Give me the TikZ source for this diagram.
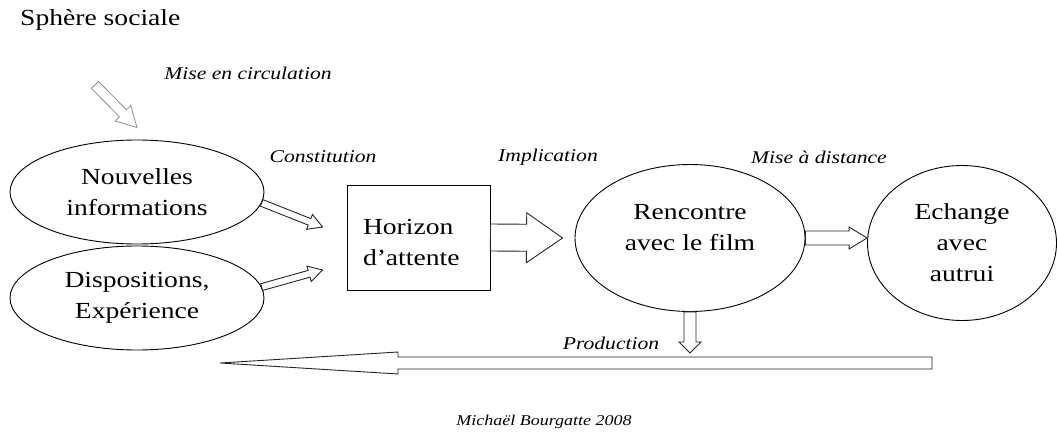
\documentclass[tikz,border=0pt]{standalone}
\usepackage{fontspec}
\setmainfont{Liberation Serif}[FakeStretch=1.2]
\usepackage{tikz}
\usetikzlibrary{calc,positioning,shapes.geometric}
\newcommand{\txtmain}{\fontsize{23}{31}\selectfont}
\newcommand{\txtlab}{\fontsize{18}{20}\selectfont\itshape}
\newcommand{\txtsig}{\fontsize{15}{17}\selectfont\itshape}
% hollow block arrow: [style]{from}{to}{shaft half}{head half}{head length}
\newcommand{\blockarr}[6][]{%
  \coordinate (ba) at ($(#3)!#6!(#2)$);%
  \draw[#1] ($(#2)!#4!90:(#3)$) -- ($(ba)!#4!90:(#3)$) -- ($(ba)!#5!90:(#3)$) -- (#3) -- ($(ba)!#5!-90:(#3)$) -- ($(ba)!#4!-90:(#3)$) -- ($(#2)!#4!-90:(#3)$) -- cycle;}
\tikzset{
  bubble/.style={draw, ellipse, inner sep=0pt, align=center, font=\txtmain, line width=0.9pt},
  boxnode/.style={draw, rectangle, inner xsep=16pt, align=left, font=\txtmain, line width=0.9pt},
  lab/.style={font=\txtlab, inner sep=0pt},
  arr/.style={draw=black!85, fill=white, line width=0.9pt, line join=miter},
  softarr/.style={draw=black!45, fill=white, line width=0.8pt}
}
\begin{document}
\begin{tikzpicture}[x=1pt, y=-1pt]
    \useasboundingbox (0,0) rectangle (1058,436);
    \node[anchor=west, font=\txtmain, inner sep=0pt] (sphere) at (20,20) {Sphère sociale}; %
    \node[lab] (circ) at (248,73) {Mise en circulation}; %
    \node[bubble, minimum width=254pt, minimum height=104pt] (nouv) at (137,192) {Nouvelles\\informations}; %
    \node[bubble, minimum width=254pt, minimum height=104pt] (disp) at (137,298) {Dispositions,\\Expérience}; %
    \node[boxnode, minimum width=143pt, minimum height=105pt, text width=111pt, text depth=22pt] (horiz) at (418.5,237.5) {Horizon\\d’attente}; %
    \node[bubble, minimum width=230pt, minimum height=147pt, text depth=22pt] (renc) at (690,238) {Rencontre\\avec le film}; %
    \node[bubble, minimum width=189pt, minimum height=155pt] (ech) at (962,243) {Echange\\avec\\autrui}; %
    \node[lab] (cons) at (323,157) {Constitution}; %
    \node[lab] (impl) at (548,157) {Implication}; %
    \node[lab] (dist) at (819,157) {Mise à distance}; %
    \node[lab] (prod) at (611,343) {Production}; %
    \node[font=\txtsig, inner sep=0pt] (sig) at (544,422) {Michaël Bourgatte 2008}; %
    % arrows
    \coordinate (circ-tail) at (95,85); %
    \coordinate (circ-tip) at ($(nouv.north)+(0,-12)$); %
    \blockarr[softarr]{circ-tail}{circ-tip}{5pt}{11pt}{20pt} %
    \coordinate (cons-tip1) at ($(horiz.west)+(-24,-10.5)$); %
    \coordinate (cons-tip2) at ($(horiz.west)+(-24,32.5)$); %
    \blockarr[arr]{nouv.-5}{cons-tip1}{3.5pt}{8pt}{14pt} %
    \blockarr[arr]{disp.5}{cons-tip2}{3.5pt}{8pt}{14pt} %
    \coordinate (impl-tip) at ($(renc.west)+(-12,0)$); %
    \blockarr[arr]{horiz.east}{impl-tip}{13.5pt}{25pt}{36pt} %
    \coordinate (dist-tip) at (renc.east -| ech.west); %
    \blockarr[arr]{renc.east}{dist-tip}{7pt}{11pt}{18pt} %
    \coordinate (prod-top) at ($(renc.south)+(0,41)$); %
    \blockarr[arr]{renc.south}{prod-top}{6pt}{11pt}{11pt} %
    \coordinate (prod-end) at (932,363); %
    \coordinate (prod-tip) at (220,363); %
    \blockarr[arr]{prod-end}{prod-tip}{6pt}{11pt}{178pt} %
\end{tikzpicture}
\end{document}
